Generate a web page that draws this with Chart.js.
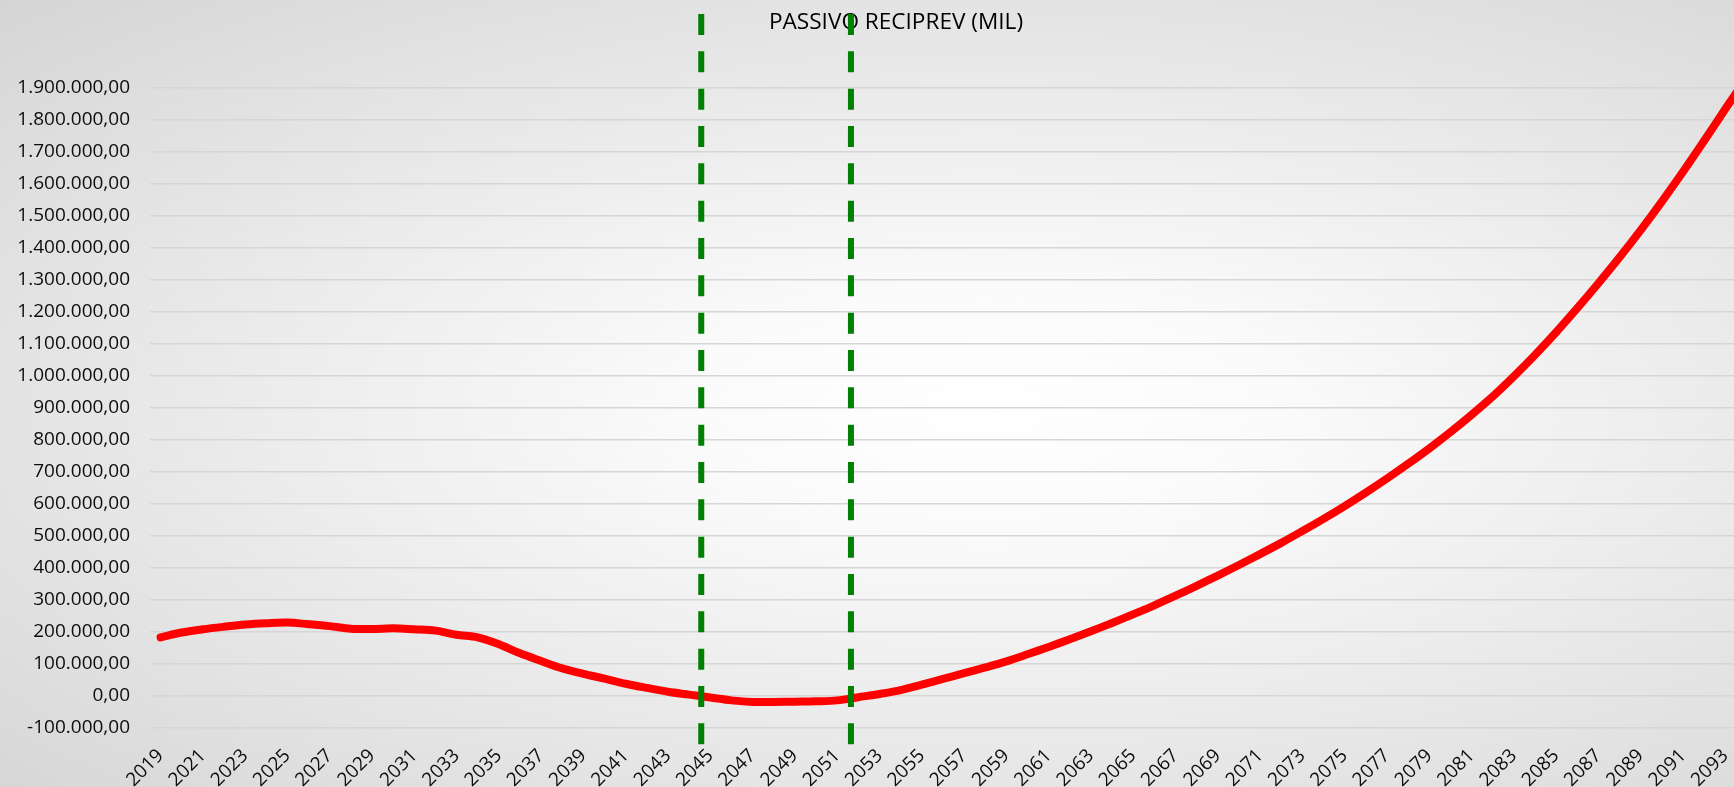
<!DOCTYPE html>
<html lang="pt-BR">
<head>
<meta charset="utf-8">
<title>Passivo Reciprev</title>
<script src="https://cdn.jsdelivr.net/npm/chart.js@4.4.1/dist/chart.umd.min.js"></script>
<style>
    html, body {
        margin: 0;
        padding: 0;
        overflow: hidden;
        width: 1734px;
        height: 787px;
    }
    #moldura {
        width: 1792px;
        height: 787px;
        background: radial-gradient(ellipse farthest-corner at 55% 52%, #ffffff 0%, #fafafa 22%, #d5d5d5 100%);
    }
</style>
</head>
<body>
<div id="moldura">
    <canvas id="passivoChart" width="1792" height="787"></canvas>
</div>
<script>
const anos = [
    '2019', '2020', '2021', '2022', '2023', '2024', '2025', '2026', '2027', '2028',
    '2029', '2030', '2031', '2032', '2033', '2034', '2035', '2036', '2037', '2038',
    '2039', '2040', '2041', '2042', '2043', '2044', '2045', '2046', '2047', '2048',
    '2049', '2050', '2051', '2052', '2053', '2054', '2055', '2056', '2057', '2058',
    '2059', '2060', '2061', '2062', '2063', '2064', '2065', '2066', '2067', '2068',
    '2069', '2070', '2071', '2072', '2073', '2074', '2075', '2076', '2077', '2078',
    '2079', '2080', '2081', '2082', '2083', '2084', '2085', '2086', '2087', '2088',
    '2089', '2090', '2091', '2092', '2093', '2094'
];

const passivo = [
    182000, 197000, 207000, 215000, 222000, 226000, 228000, 223000, 217000, 209000,
    208000, 210000, 207000, 203000, 190000, 182000, 160000, 132000, 108000, 85000,
    68000, 53000, 37000, 24000, 12000, 3000, -6000, -15000, -20000, -20000,
    -19000, -18000, -15000, -5000, 5000, 17000, 34000, 52000, 70000, 88000,
    107000, 129000, 152000, 176000, 201000, 227000, 254000, 282000, 312000, 343000,
    375000, 408000, 442000, 477000, 514000, 552000, 592000, 634000, 678000, 724000,
    772000, 823000, 877000, 934000, 997000, 1064000, 1135000, 1210000, 1288000, 1369000,
    1454000, 1543000, 1636000, 1733000, 1832000, 1930000
];

// anos (fracionados) onde ficam as linhas verdes tracejadas
const marcos = [2044.57, 2051.65];

const eixoY = { min: -100000, max: 1900000, passo: 100000 };

function formatarBR(valor) {
    const negativo = valor < 0;
    const partes = Math.abs(valor).toFixed(2).split('.');
    const inteiro = partes[0].replace(/\B(?=(\d{3})+(?!\d))/g, '.');
    return (negativo ? '-' : '') + inteiro + ',' + partes[1];
}

const linhasMarco = {
    id: 'linhasMarco',
    afterDatasetsDraw(chart) {
        const ctx = chart.ctx;
        const x = chart.scales.x;
        const area = chart.chartArea;
        ctx.save();
        ctx.strokeStyle = '#008000';
        ctx.lineWidth = 6;
        ctx.setLineDash([21, 16.33]);
        marcos.forEach(ano => {
            const px = x.getPixelForValue(ano - parseInt(anos[0]));
            ctx.beginPath();
            ctx.moveTo(px, area.top - 73.3);
            ctx.lineTo(px, area.bottom + 17.4);
            ctx.stroke();
        });
        ctx.restore();
    }
};

document.addEventListener('DOMContentLoaded', function() {
    const ctx = document.getElementById('passivoChart').getContext('2d');
    new Chart(ctx, {
        type: 'line',
        data: {
            labels: anos,
            datasets: [{
                label: 'Passivo',
                data: passivo,
                borderColor: '#ff0000',
                borderWidth: 8,
                borderCapStyle: 'round',
                borderJoinStyle: 'round',
                pointRadius: 0,
                tension: 0.35,
                fill: false
            }]
        },
        options: {
            responsive: false,
            animation: false,
            devicePixelRatio: 1,
            layout: {
                padding: 0
            },
            plugins: {
                legend: { display: false },
                tooltip: { enabled: false },
                title: {
                    display: true,
                    text: 'PASSIVO RECIPREV (MIL)',
                    color: '#000000',
                    font: { family: '"Open Sans", sans-serif', size: 22.6, weight: 'normal', lineHeight: 1.2 },
                    padding: { top: 9.5, bottom: 50.7 }
                }
            },
            scales: {
                x: {
                    offset: true,
                    grid: { display: false, drawTicks: false },
                    border: { display: false },
                    ticks: {
                        autoSkip: false,
                        minRotation: 45,
                        maxRotation: 45,
                        padding: 17,
                        color: '#0d0d0d',
                        font: { family: '"Open Sans", sans-serif', size: 19 },
                        callback: function(valor, indice) {
                            return indice % 2 === 0 ? anos[indice] : '';
                        }
                    },
                    afterFit: function(escala) {
                        escala.height = 59.4;
                    }
                },
                y: {
                    min: eixoY.min,
                    max: eixoY.max,
                    grid: { color: '#d6d6d6', lineWidth: 1.5, drawTicks: false },
                    border: { display: false },
                    ticks: {
                        stepSize: eixoY.passo,
                        autoSkip: false,
                        padding: 20,
                        color: '#0d0d0d',
                        font: { family: '"Open Sans", sans-serif', size: 19 },
                        callback: function(valor) {
                            return formatarBR(valor);
                        }
                    },
                    afterFit: function(escala) {
                        escala.width = 150;
                    }
                },
                margemDireita: {
                    type: 'linear',
                    position: 'right',
                    grid: { display: false, drawTicks: false },
                    border: { display: false },
                    ticks: { display: false },
                    afterFit: function(escala) {
                        escala.width = 35;
                    }
                }
            }
        },
        plugins: [linhasMarco]
    });
});
</script>
</body>
</html>
